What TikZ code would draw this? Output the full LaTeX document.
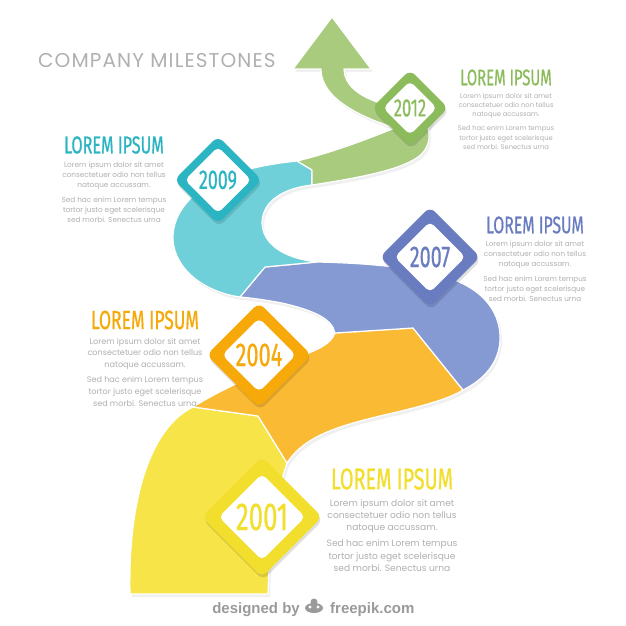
\documentclass[tikz,border=0pt]{standalone}
\usepackage{fontspec}
\setmainfont{Poppins}
\newfontfamily\headfont[FakeStretch=0.66, FakeBold=0.6]{Fira Sans}
\newfontfamily\footfont{Liberation Sans}
\newfontfamily\titlefont[LetterSpace=5.5]{Poppins}
\usetikzlibrary{positioning}

\definecolor{roadgreen}{HTML}{A8CB7E}
\definecolor{diamgreen}{HTML}{8CBB5B}
\definecolor{roadcyan}{HTML}{6FD0D9}
\definecolor{diamcyan}{HTML}{2BB4C1}
\definecolor{roadblue}{HTML}{8599D2}
\definecolor{diamblue}{HTML}{6A7CC0}
\definecolor{roadorange}{HTML}{FBBA33}
\definecolor{diamorange}{HTML}{F6A908}
\definecolor{roadyellow}{HTML}{F6E449}
\definecolor{diamyellow}{HTML}{F2DE2C}
\definecolor{bodygrey}{HTML}{B0B0B0}
\definecolor{titlegrey}{HTML}{B0B0B0}
\definecolor{footgrey}{HTML}{9A9A9A}

% road pieces, px coordinates
\newcommand\roadYellow{(130,594) .. controls (128,500) and (150,428) .. (193,407) -- (258,416) -- (287,463) .. controls (276,495) and (269,545) .. (268,594) -- cycle}
\newcommand\roadOrange{(193,407) -- (258,416) -- (287,463) .. controls (305,435) and (340,425) .. (397,412) .. controls (430,404) and (450,398) .. (463,390) -- (413,328) -- (335,333) .. controls (331,344) and (318,350) .. (298,357) .. controls (262,371) and (222,389) .. (193,407) -- cycle}
\newcommand\roadBlue{(240,297) -- (265,267) -- (317,262) .. controls (360,263) and (400,266) .. (435,274) .. controls (478,284) and (501,308) .. (500,340) .. controls (499,362) and (485,379) .. (463,390) -- (413,328) -- (335,333) .. controls (332,318) and (312,310) .. (282,303) .. controls (266,300) and (252,298) .. (240,297) -- cycle}
\newcommand\roadCyan{(240,297) -- (265,267) -- (317,262) .. controls (282,258) and (262,243) .. (262,222) .. controls (263,200) and (285,188) .. (312,185) -- (312,170) -- (297,161) .. controls (268,164) and (238,170) .. (215,181) .. controls (186,196) and (172,218) .. (173,240) .. controls (175,270) and (205,292) .. (240,297) -- cycle}
\newcommand\roadGreen{(297,161) -- (312,170) -- (312,185) .. controls (358,178) and (400,170) .. (418,157) .. controls (428,150) and (431,138) .. (428,128) -- (435,115) -- (420,100) -- (380,103) .. controls (358,96) and (344,84) .. (344,69) -- (371,69) -- (332,17) -- (293,69) -- (321,69) .. controls (321,92) and (345,112) .. (395,128) .. controls (360,142) and (330,153) .. (297,161) -- cycle}

\begin{document}
\begin{tikzpicture}[x=1pt, y=-1pt]
\tikzset{
    road/.style = {fill=#1, draw=white, line width=1.2pt, line join=round},
    roadshadow/.style = {fill=black, opacity=0.06},
    diamshadow/.style = {rotate=45, rounded corners=7pt, inner sep=0pt, minimum size=#1, fill=black, opacity=0.12},
    outerdiam/.style 2 args = {rotate=45, rounded corners=7pt, inner sep=0pt, minimum size=#1, fill=#2},
    innerdiam/.style = {rotate=45, rounded corners=5pt, inner sep=0pt, minimum size=#1, fill=white},
    yearlabel/.style 2 args = {font=\headfont\fontsize{#1}{#1}\selectfont, text=#2, inner sep=0pt},
    heading/.style 2 args = {font=\headfont\fontsize{#1}{#1}\selectfont, text=#2, inner sep=0pt},
    bodytext/.style 2 args = {font=\fontsize{#1}{#2}\selectfont, text=bodygrey, align=center, inner sep=0pt}
}
\useasboundingbox[fill=white] (0,0) rectangle (626,626);

% shadow under the road
\foreach \p in {\roadYellow,\roadOrange,\roadBlue,\roadCyan,\roadGreen}{
    \fill[roadshadow, shift={(2,3)}] \p;
}
\draw[road=roadyellow] \roadYellow;
\draw[road=roadorange] \roadOrange;
\draw[road=roadblue] \roadBlue;
\draw[road=roadcyan] \roadCyan;
\draw[road=roadgreen] \roadGreen;

% milestones
\node[diamshadow=54pt] at (411,111) {};
\node[outerdiam={54pt}{diamgreen}] (d2012) at (410,108) {};
\node[innerdiam=38pt] at (d2012) {};
\node[yearlabel={25}{diamgreen}] at (d2012) {2012};

\node[diamshadow=62pt] at (219,183) {};
\node[outerdiam={62pt}{diamcyan}] (d2009) at (218,180) {};
\node[innerdiam=47pt] at (d2009) {};
\node[yearlabel={27}{diamcyan}] at (d2009) {2009};

\node[diamshadow=71pt] at (431,260) {};
\node[outerdiam={71pt}{diamblue}] (d2007) at (430,257) {};
\node[innerdiam=50pt] at (d2007) {};
\node[yearlabel={30}{diamblue}] at (d2007) {2007};

\node[diamshadow=74pt] at (260,358) {};
\node[outerdiam={74pt}{diamorange}] (d2004) at (259,355) {};
\node[innerdiam=52pt] at (d2004) {};
\node[yearlabel={33}{diamorange}] at (d2004) {2004};

\node[diamshadow=85pt] at (263,520) {};
\node[outerdiam={85pt}{diamyellow}] (d2001) at (262,517) {};
\node[innerdiam=61pt] at (d2001) {};
\node[yearlabel={39}{diamyellow}] at (d2001) {2001};

% title
\node[font=\titlefont\fontsize{20}{20}\selectfont, text=titlegrey, inner sep=0pt, anchor=west] (title) at (38,61) {COMPANY MILESTONES};

% text blocks
\node[heading={22.5}{diamgreen}] (hGreen) at (506,77.5) {LOREM IPSUM};
\node[bodytext={6.7}{9.3}, below=7pt of hGreen] (tGreen) {Lorem ipsum dolor sit amet\\consectetuer odio non tellus\\natoque accussam.\\[5pt]Sed hac enim Lorem tempus\\tortor justo eget scelerisque\\sed morbi. Senectus urna};

\node[heading={24.5}{diamcyan}] (hCyan) at (114,145) {LOREM IPSUM};
\node[bodytext={7.3}{10}, below=7.5pt of hCyan] (tCyan) {Lorem ipsum dolor sit amet\\consectetuer odio non tellus\\natoque accussam.\\[5pt]Sed hac enim Lorem tempus\\tortor justo eget scelerisque\\sed morbi. Senectus urna};

\node[heading={24}{diamblue}] (hBlue) at (535,225) {LOREM IPSUM};
\node[bodytext={7.2}{10}, below=7.5pt of hBlue] (tBlue) {Lorem ipsum dolor sit amet\\consectetuer odio non tellus\\natoque accussam.\\[5pt]Sed hac enim Lorem tempus\\tortor justo eget scelerisque\\sed morbi. Senectus urna};

\node[heading={26.5}{diamorange}] (hOrange) at (145,320) {LOREM IPSUM};
\node[bodytext={8.1}{11.8}, below=8pt of hOrange] (tOrange) {Lorem ipsum dolor sit amet\\consectetuer odio non tellus\\natoque accussam.\\[3pt]Sed hac enim Lorem tempus\\tortor justo eget scelerisque\\sed morbi. Senectus urna};

\node[heading={30}{diamyellow}] (hYellow) at (392,479) {LOREM IPSUM};
\node[bodytext={9.1}{12.3}, below=9pt of hYellow] (tYellow) {Lorem ipsum dolor sit amet\\consectetuer odio non tellus\\natoque accussam.\\[4pt]Sed hac enim Lorem tempus\\tortor justo eget scelerisque\\sed morbi. Senectus urna};

% credit line
\node[font=\footfont\bfseries\fontsize{15}{15}\selectfont, text=footgrey, inner sep=0pt, anchor=base east] (credit) at (300,613) {designed by};
\node[font=\footfont\bfseries\fontsize{15}{15}\selectfont, text=footgrey, inner sep=0pt, anchor=base west] (site) at (330,613) {freepik.com};
\fill[footgrey] (314,608) ellipse (9 and 5);
\fill[footgrey] (314,602) circle (3.5);
\fill[white] (310,607) circle (1.6) (318,607) circle (1.6);
\end{tikzpicture}
\end{document}
